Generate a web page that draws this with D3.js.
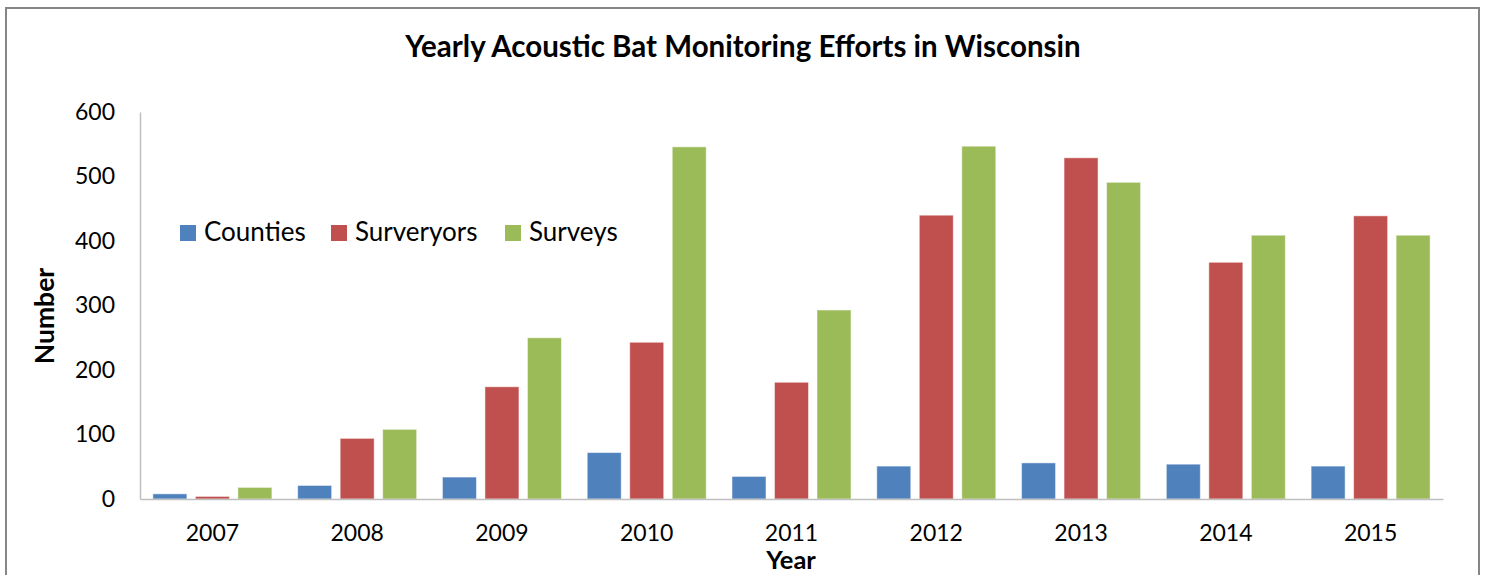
<!DOCTYPE html>
<html>
<head>
<meta charset="utf-8">
<script src="https://cdn.jsdelivr.net/npm/d3@7"></script>
<style>
  body { margin: 0; background: #fff; }
  text { font-family: Lato, "Open Sans", sans-serif; fill: #000; }
</style>
</head>
<body>
<div id="chart"></div>
<script>
// data
var years = ["2007", "2008", "2009", "2010", "2011", "2012", "2013", "2014", "2015"]
var seriesNames = ["Counties", "Surveryors", "Surveys"]
var counties   = [8, 21, 34, 72, 35, 51, 56, 54, 51]
var surveyors  = [4, 94, 174, 243, 181, 440, 529, 367, 439]
var surveys    = [18, 108, 250, 546, 293, 547, 491, 409, 409]
var yTicks = [0, 100, 200, 300, 400, 500, 600]
var colors = ["#4F81BD", "#C0504D", "#9BBB59"]

function draw() {
    var W = 1486, H = 575
    var svg = d3.select("#chart").append("svg")
        .attr("width", W)
        .attr("height", H)

    // outer chart border
    svg.append("rect")
        .attr("x", 6).attr("y", 8)
        .attr("width", 1473).attr("height", 600)
        .attr("fill", "none")
        .attr("stroke", "#868686")
        .attr("stroke-width", 2)

    var plotLeft = 140, plotRight = 1443, plotTop = 112, plotBottom = 499

    var x0 = d3.scaleBand().domain(years).range([plotLeft, plotRight])
        .paddingInner(0.178).paddingOuter(0.089)
    var x1 = d3.scaleBand().domain(seriesNames).range([0, x0.bandwidth()])
        .paddingInner(0.2).paddingOuter(0)
    var y = d3.scaleLinear().domain([0, 600]).range([plotBottom, plotTop])
    var color = d3.scaleOrdinal().domain(seriesNames).range(colors)

    var rows = years.map(function(yr, i) {
        return { year: yr, values: [counties[i], surveyors[i], surveys[i]] }
    })

    // bars
    svg.append("g").selectAll("g")
        .data(rows)
        .enter().append("g")
        .attr("transform", function(d) { return "translate(" + x0(d.year) + ",0)" })
        .selectAll("rect")
        .data(function(d) { return d.values.map(function(v, k) { return { key: seriesNames[k], value: v } }) })
        .enter().append("rect")
        .attr("x", function(d) { return x1(d.key) })
        .attr("y", function(d) { return y(d.value) })
        .attr("width", x1.bandwidth())
        .attr("height", function(d) { return y(0) - y(d.value) })
        .attr("fill", function(d) { return color(d.key) })
        .attr("stroke", "#fff")
        .attr("stroke-opacity", 0.5)
        .attr("stroke-width", 1)

    // y axis
    var yAxis = svg.append("g")
        .attr("transform", "translate(" + plotLeft + ",0)")
        .call(d3.axisLeft(y).tickValues(yTicks).tickSize(0).tickPadding(25))
    yAxis.select(".domain").attr("stroke", "#BFBFBF").attr("stroke-width", 1.5)
    yAxis.selectAll("text").style("font-size", "23px").attr("fill", "#000")

    // x axis
    var xAxis = svg.append("g")
        .attr("transform", "translate(0," + plotBottom + ")")
        .call(d3.axisBottom(x0).tickSize(0).tickPadding(26))
    xAxis.select(".domain").attr("stroke", "#BFBFBF").attr("stroke-width", 1.5)
    xAxis.selectAll("text").style("font-size", "23px").attr("fill", "#000")

    // title
    svg.append("text")
        .attr("x", 743).attr("y", 57)
        .attr("text-anchor", "middle")
        .style("font-size", "29.5px").style("font-weight", "bold")
        .text("Yearly Acoustic Bat Monitoring Efforts in Wisconsin")

    // axis titles
    svg.append("text")
        .attr("transform", "translate(54,316) rotate(-90)")
        .attr("text-anchor", "middle")
        .style("font-size", "26.5px").style("font-weight", "bold")
        .text("Number")
    svg.append("text")
        .attr("x", 791).attr("y", 569)
        .attr("text-anchor", "middle")
        .style("font-size", "25.5px").style("font-weight", "bold")
        .text("Year")

    // legend
    var legendX = [180, 331, 505]
    var legend = svg.append("g").selectAll("g")
        .data(seriesNames)
        .enter().append("g")
        .attr("transform", function(d, i) { return "translate(" + legendX[i] + ",225)" })
    legend.append("rect")
        .attr("width", 16).attr("height", 16)
        .attr("fill", function(d) { return color(d) })
    legend.append("text")
        .attr("x", 24).attr("y", 16)
        .style("font-size", "26px")
        .text(function(d) { return d })
}

draw()
</script>
</body>
</html>
